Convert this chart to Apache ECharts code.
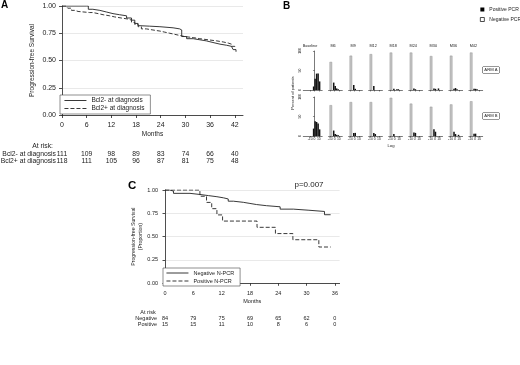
<!DOCTYPE html>
<html>
<head>
<meta charset="utf-8">
<script src="https://cdn.jsdelivr.net/npm/echarts@6/dist/echarts.min.js"></script>
<style>
  html, body { margin: 0; padding: 0; background: #fff; }
  #chart { width: 520px; height: 365px; }
</style>
</head>
<body>
<div id="chart"></div>
<script>
// ---- panel A: PFS by Bcl2 status at diagnosis ----
const monthsA = [0, 6, 12, 18, 24, 30, 36, 42];
const bcl2Neg = [[0, 1], [5.9, 1], [6.4, 0.97], [7.5, 0.96], [9.2, 0.945], [10.8, 0.93], [12.4, 0.92], [14, 0.91],
  [15.7, 0.89], [16.9, 0.87], [17.7, 0.84], [18.5, 0.82], [18.9, 0.815], [21.3, 0.81], [23.8, 0.80], [27, 0.79],
  [28.6, 0.78], [29.1, 0.72], [30.3, 0.70], [31.9, 0.69], [33.5, 0.68], [35.1, 0.665], [36.7, 0.65], [38.4, 0.64],
  [40, 0.63], [41.2, 0.625], [41.6, 0.60], [42.3, 0.58]];
const bcl2Pos = [[0, 1], [1, 1], [1.4, 0.98], [2.3, 0.96], [3.1, 0.95], [3.9, 0.94], [6.7, 0.94], [7.5, 0.93],
  [8.8, 0.92], [10, 0.91], [11.6, 0.90], [12.8, 0.89], [14.4, 0.88], [16.1, 0.87], [16.9, 0.85], [17.7, 0.83],
  [18.5, 0.81], [19.3, 0.79], [20.5, 0.78], [22.1, 0.77], [23.8, 0.76], [25, 0.75], [26.2, 0.74], [27.4, 0.73],
  [28.6, 0.72], [29.8, 0.71], [31.9, 0.70], [33.5, 0.69], [35.5, 0.68], [37.6, 0.67], [39.2, 0.66], [40.4, 0.65],
  [41.2, 0.63], [42, 0.62]];
const riskBcl2Neg = [111, 109, 98, 89, 83, 74, 66, 40];
const riskBcl2Pos = [118, 111, 105, 96, 87, 81, 75, 48];

// ---- panel B: PCR distribution per time point and arm ----
const timePoints = ['Baseline', 'M6', 'M9', 'M12', 'M18', 'M24', 'M30', 'M36', 'M42'];
const arms = ['ARM A', 'ARM B'];
const logTicks = [-10, 0, 10];
const negLog = -10;
const logBins = [-2, 1.5, 5, 8.5, 12, 15.5];
const negPcrArmA = [0, 72, 88, 92, 96, 96, 87, 88, 96];
const negPcrArmB = [0, 79, 87, 87, 98, 83, 75, 81, 89];
const posPcrArmA = [[9, 29, 42, 42, 22], [19, 10, 4, 2], [13, 3], [10], [3, 0, 2, 2], [4, 2], [4, 3, 0, 4], [3, 5, 2], [3, 3, 2]];
const posPcrArmB = [[19, 38, 36, 32, 17], [14, 5, 3, 2], [8, 8], [8, 5], [5], [9, 8], [17, 11], [11, 5, 0, 3], [6, 6]];

// ---- panel C: PFS by N-PCR ----
const monthsC = [0, 6, 12, 18, 24, 30, 36];
const npcrNeg = [[0, 1], [1, 0.988], [1.8, 0.964], [5.3, 0.952], [7.4, 0.94], [9.2, 0.928], [11, 0.916], [12.4, 0.904],
  [13.4, 0.88], [14.5, 0.868], [16.6, 0.856], [18, 0.844], [19.4, 0.832], [21.5, 0.82], [24.4, 0.795], [27.2, 0.783],
  [30.5, 0.77], [33.8, 0.735], [35.1, 0.735]];
const npcrPos = [[0, 1], [7.4, 0.933], [8.8, 0.867], [9.9, 0.8], [11, 0.733], [12.2, 0.667], [19.5, 0.6], [23.4, 0.533],
  [27.1, 0.467], [32.6, 0.389], [35.1, 0.389]];
const riskNpcrNeg = [84, 79, 75, 69, 65, 62, 0];
const riskNpcrPos = [15, 15, 11, 10, 8, 6, 0];

const FONT = '"Liberation Sans", Arial, sans-serif';
const INK = '#222';
const axisLine = {show: true, lineStyle: {color: INK, width: 0.8}};
const tickStyle = {color: INK, width: 0.8};
const gridLine = {show: true, lineStyle: {color: '#e3e3e3', width: 0.8}};

const grids = [];
const xAxes = [];
const yAxes = [];
const series = [];

function kmLine(name, data, x, y, dashed) {
  return {
    type: 'line', name: name, data: data, xAxisIndex: x, yAxisIndex: y,
    step: 'end', symbol: 'none', silent: true,
    lineStyle: {color: INK, width: 0.9, type: dashed ? [4, 2] : 'solid'}
  };
}

function riskAxis(grid, max, ticks, values, offset, size) {
  return {
    gridIndex: grid, type: 'value', min: 0, max: max, interval: 6, position: 'bottom', offset: offset,
    axisLine: {show: false}, axisTick: {show: false}, splitLine: {show: false},
    axisLabel: {
      customValues: ticks, margin: 0, fontSize: size, color: INK, fontFamily: FONT,
      formatter: v => String(values[ticks.indexOf(v)])
    }
  };
}

function txt(x, y, s, st, rot) {
  return {
    type: 'text', x: x, y: y, rotation: rot || 0, silent: true,
    style: Object.assign({
      text: s, fontSize: 7, fontFamily: FONT, fill: INK,
      textAlign: 'center', textVerticalAlign: 'middle'
    }, st || {})
  };
}

// panel A
grids.push({left: 62, top: 6, width: 181, height: 109});
xAxes.push({
  gridIndex: 0, type: 'value', min: 0, max: 44, interval: 6, offset: 3,
  axisLine: axisLine, splitLine: {show: false},
  axisTick: {customValues: monthsA, length: 3, lineStyle: tickStyle},
  axisLabel: {customValues: monthsA, fontSize: 7, margin: 4, color: INK, fontFamily: FONT},
  name: 'Months', nameLocation: 'middle', nameGap: 13,
  nameTextStyle: {fontSize: 6.5, color: INK, fontFamily: FONT}
});
xAxes.push(riskAxis(0, 44, monthsA, riskBcl2Neg, 35.5, 6.8));
xAxes.push(riskAxis(0, 44, monthsA, riskBcl2Pos, 42.5, 6.8));
yAxes.push({
  gridIndex: 0, type: 'value', min: 0, max: 1, interval: 0.25, offset: 2,
  axisLine: axisLine, splitLine: gridLine,
  axisTick: {show: true, length: 3, lineStyle: tickStyle},
  axisLabel: {formatter: v => v.toFixed(2), fontSize: 7, margin: 4, color: INK, fontFamily: FONT},
  name: 'Progression-free Survival', nameLocation: 'middle', nameGap: 24, nameRotate: 90,
  nameTextStyle: {fontSize: 6.5, color: INK, fontFamily: FONT}
});
series.push(kmLine('Bcl2- at diagnosis', bcl2Neg, 0, 0, false));
series.push(kmLine('Bcl2+ at diagnosis', bcl2Pos, 0, 0, true));

// panel C
grids.push({left: 165, top: 190, width: 174.6, height: 93.3});
xAxes.push({
  gridIndex: 1, type: 'value', min: 0, max: 37, interval: 6, offset: 4,
  axisLine: axisLine, splitLine: {show: false},
  axisTick: {customValues: monthsC, length: 2.5, lineStyle: tickStyle},
  axisLabel: {customValues: monthsC, fontSize: 5.5, margin: 3, color: INK, fontFamily: FONT},
  name: 'Months', nameLocation: 'middle', nameGap: 11,
  nameTextStyle: {fontSize: 5.5, color: INK, fontFamily: FONT}
});
xAxes.push(riskAxis(1, 37, monthsC, riskNpcrNeg, 32, 5.5));
xAxes.push(riskAxis(1, 37, monthsC, riskNpcrPos, 38, 5.5));
yAxes.push({
  gridIndex: 1, type: 'value', min: 0, max: 1, interval: 0.25, offset: 3,
  axisLine: axisLine, splitLine: gridLine,
  axisTick: {show: true, length: 2.5, lineStyle: tickStyle},
  axisLabel: {formatter: v => v.toFixed(2), fontSize: 5.5, margin: 4, color: INK, fontFamily: FONT},
  name: 'Progression-free Survival\n(Proportion)', nameLocation: 'middle', nameGap: 15, nameRotate: 90,
  nameTextStyle: {fontSize: 5.2, color: INK, fontFamily: FONT, lineHeight: 6.5}
});
series.push(kmLine('Negative N-PCR', npcrNeg, 3, 1, false));
series.push(kmLine('Positive N-PCR', npcrPos, 3, 1, true));

// panel B small multiples
const armNeg = [negPcrArmA, negPcrArmB];
const armPos = [posPcrArmA, posPcrArmB];
const headerGraphics = [];
arms.forEach((arm, r) => {
  timePoints.forEach((tp, c) => {
    const g = grids.length;
    const left = c === 0 ? 303.3 : 308.5 + 20.05 * c;
    grids.push({left: left, top: r === 0 ? 51 : 97, width: c === 0 ? 18.9 : 13.76, height: 39});
    const xi = xAxes.length;
    xAxes.push({
      gridIndex: g, type: 'value', min: c === 0 ? -26 : -14, max: 18,
      axisLine: {show: true, lineStyle: {color: INK, width: 0.6}}, splitLine: {show: false},
      axisTick: {customValues: logTicks, length: 1.5, lineStyle: {color: INK, width: 0.5}},
      axisLabel: {show: r === 1, customValues: logTicks, fontSize: 3.4, margin: 1.5, color: INK, fontFamily: FONT}
    });
    const yi = yAxes.length;
    yAxes.push({
      gridIndex: g, type: 'value', min: 0, max: 100, interval: 50, show: c === 0,
      axisLine: {show: true, lineStyle: {color: INK, width: 0.6}}, splitLine: {show: false},
      axisTick: {show: true, length: 1.5, lineStyle: {color: INK, width: 0.5}},
      axisLabel: {rotate: 90, fontSize: 3.4, margin: 1.5, color: INK, fontFamily: FONT}
    });
    const neg = armNeg[r][c];
    series.push({
      type: 'bar', name: 'Negative PCR', xAxisIndex: xi, yAxisIndex: yi, silent: true,
      data: neg > 0 ? [[negLog, neg]] : [], barWidth: 2.6, barGap: '-100%',
      itemStyle: {color: '#c4c4c4', borderColor: '#8c8c8c', borderWidth: 0.4}
    });
    series.push({
      type: 'bar', name: 'Positive PCR', xAxisIndex: xi, yAxisIndex: yi, silent: true,
      data: armPos[r][c].map((p, j) => [logBins[j], p]).filter(d => d[1] > 0),
      barWidth: 1.5, barGap: '-100%', itemStyle: {color: '#111'}
    });
    if (r === 0) {
      headerGraphics.push(txt(c === 0 ? 310 : left + 4.5, 46, tp, {fontSize: 3.8}));
    }
  });
});

const graphics = headerGraphics.concat([
  txt(1, 5, 'A', {fontSize: 10, fontWeight: 'bold', fill: '#000', textAlign: 'left'}),
  txt(283, 6, 'B', {fontSize: 10, fontWeight: 'bold', fill: '#000', textAlign: 'left'}),
  txt(128, 186, 'C', {fontSize: 11.5, fontWeight: 'bold', fill: '#000', textAlign: 'left'}),
  txt(53, 146, 'At risk:', {fontSize: 6.8, textAlign: 'right'}),
  txt(56, 154, 'Bcl2- at diagnosis', {fontSize: 6.8, textAlign: 'right'}),
  txt(56, 161, 'Bcl2+ at diagnosis', {fontSize: 6.8, textAlign: 'right'}),
  txt(148, 312, 'At risk', {fontSize: 5.5}),
  txt(157, 318, 'Negative', {fontSize: 5.5, textAlign: 'right'}),
  txt(157, 324, 'Positive', {fontSize: 5.5, textAlign: 'right'}),
  txt(309, 185, 'p=0.007', {fontSize: 8}),
  txt(293, 93, 'Percent of patients', {fontSize: 4}, Math.PI / 2),
  txt(391, 146, 'Log', {fontSize: 4.2}),
  txt(491, 70, 'ARM A', {fontSize: 4.2, backgroundColor: '#fff', borderColor: '#333', borderWidth: 0.5, padding: [1, 1.5]}),
  txt(491, 116, 'ARM B', {fontSize: 4.2, backgroundColor: '#fff', borderColor: '#333', borderWidth: 0.5, padding: [1, 1.5]})
]);

const lineLegend = {
  orient: 'vertical', selectedMode: false, itemWidth: 22, itemHeight: 6,
  borderColor: '#444', borderWidth: 0.6, backgroundColor: '#fff',
  itemStyle: {opacity: 0}, lineStyle: {width: 0.9}
};

const option = {
  animation: false,
  backgroundColor: '#fff',
  grid: grids,
  xAxis: xAxes,
  yAxis: yAxes,
  legend: [
    Object.assign({}, lineLegend, {
      data: ['Bcl2- at diagnosis', 'Bcl2+ at diagnosis'], left: 60, top: 95,
      itemGap: 1, padding: [2, 6, 2, 4],
      textStyle: {fontSize: 6.5, color: INK, fontFamily: FONT}
    }),
    Object.assign({}, lineLegend, {
      data: ['Negative N-PCR', 'Positive N-PCR'], left: 163, top: 268,
      itemGap: 2, padding: [2, 6, 2, 3],
      textStyle: {fontSize: 5.5, color: INK, fontFamily: FONT}
    }),
    {
      data: [
        {name: 'Positive PCR', icon: 'rect', itemStyle: {color: '#000'}},
        {name: 'Negative PCR', icon: 'rect', itemStyle: {color: '#fff', borderColor: '#000', borderWidth: 0.7}}
      ],
      left: 480, top: 7, orient: 'vertical', selectedMode: false,
      itemWidth: 4, itemHeight: 4, itemGap: 5, padding: 0,
      textStyle: {fontSize: 5, color: INK, fontFamily: FONT}
    }
  ],
  graphic: graphics,
  series: series
};

const chart = echarts.init(document.getElementById('chart'));
chart.setOption(option);
</script>
</body>
</html>
